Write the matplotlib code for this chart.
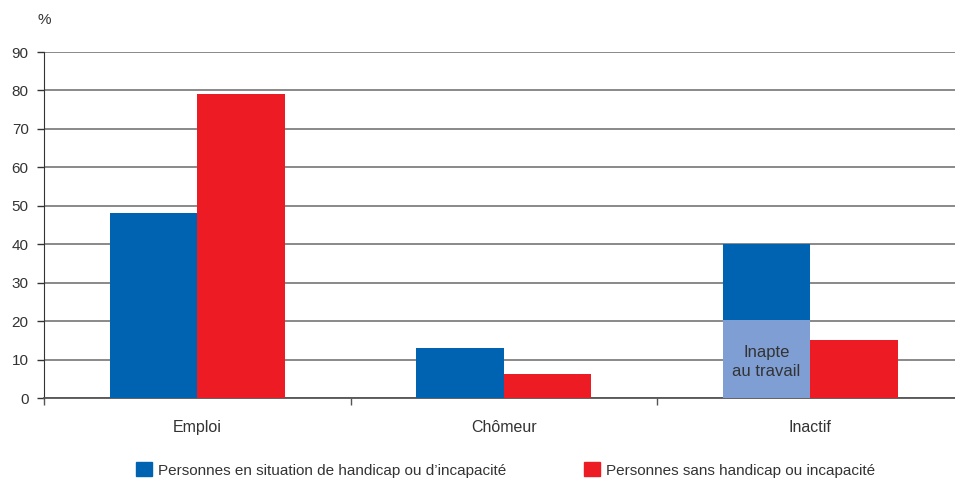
import matplotlib
import matplotlib.pyplot as plt
import numpy as np
from matplotlib.patches import Patch

matplotlib.use("Agg")
plt.rcParams["font.family"] = ["Liberation Sans", "DejaVu Sans"]

# Data
categories = ["Emploi", "Chômeur", "Inactif"]
handicap = [48, 13, 40]
sans_handicap = [79.2, 6.3, 15.2]
inapte = [0, 0, 20.2]  # part "Inapte au travail" within the blue bar

BLUE = "#0063b1"
LIGHT_BLUE = "#7f9fd4"
RED = "#ed1c24"
TEXT = "#333333"

fig = plt.figure(figsize=(9.55, 4.79), dpi=100)
# axes extends a little past the right edge, like the original
ax = fig.add_axes([44 / 955, 81 / 479, 919.5 / 955, 346 / 479])

x = np.arange(len(categories))
w = 0.285
ax.bar(x - w / 2, handicap, w, color=BLUE, zorder=3)
ax.bar(x - w / 2, inapte, w, color=LIGHT_BLUE, zorder=4)
ax.bar(x + w / 2, sans_handicap, w, color=RED, zorder=3)

# label for the light part
i = categories.index("Inactif")
ax.text(x[i] - w / 2, inapte[i] / 2 - 0.8, "Inapte\nau travail", ha="center", va="center",
        fontsize=12, color=TEXT, zorder=5, linespacing=1.35)

ax.set_xlim(-0.5, len(categories) - 0.5)
ax.set_ylim(0, 90)
ax.set_yticks(range(0, 91, 10))
ax.yaxis.grid(True, color="#808080", linewidth=1.3, zorder=0)
ax.tick_params(axis="y", length=5, width=1, color="#333333", labelsize=11, labelcolor=TEXT, pad=6)

# x ticks at category boundaries, labels at centres
ax.set_xticks(np.arange(len(categories) + 1) - 0.5)
ax.set_xticklabels([])
ax.set_xticks(x, minor=True)
ax.set_xticklabels(categories, minor=True)
ax.tick_params(axis="x", which="major", length=5, width=1, color="#555555")
ax.tick_params(axis="x", which="minor", length=0, labelsize=11.5, labelcolor=TEXT, pad=16)

for s in ["top", "right"]:
    ax.spines[s].set_visible(False)
ax.spines["left"].set_color("#333333")
ax.spines["bottom"].set_color("#555555")
ax.spines["bottom"].set_linewidth(1.3)

fig.text(44 / 955, 1 - 20 / 479, "%", ha="center", va="center", fontsize=11, color=TEXT)

handles = [Patch(color=BLUE), Patch(color=RED)]
labels = ["Personnes en situation de handicap ou d’incapacité",
          "Personnes sans handicap ou incapacité"]
fig.legend(handles, labels, loc="center left", bbox_to_anchor=(136 / 955, 1 - 470 / 479),
           ncol=2, frameon=False, fontsize=11, handlelength=1.05, handleheight=1.0,
           handletextpad=0.4, columnspacing=5.1, labelcolor=TEXT,
           borderpad=0, borderaxespad=0)

fig.savefig("out.png", dpi=100)
